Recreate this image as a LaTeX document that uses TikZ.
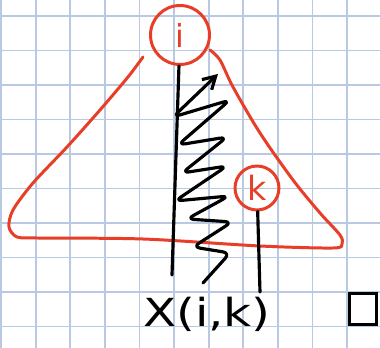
\documentclass[tikz,border=0pt]{standalone}
\usepackage{fontspec}
\setmainfont{DejaVu Sans}
\usetikzlibrary{arrows.meta}
\definecolor{inkred}{RGB}{232,62,40}
\definecolor{gridblue}{RGB}{186,201,226}
\begin{document}
\begin{tikzpicture}[x=0.02cm, y=-0.02cm,
    gridline/.style={gridblue, line width=1.1pt},
    redink/.style={inkred, line width=1.7pt, line cap=round, line join=round},
    blackink/.style={black, line width=1.8pt, line cap=round, line join=round},
    vertex/.style={circle, draw=inkred, line width=1.7pt, inner sep=0pt, text=inkred}]
    \useasboundingbox (0,0) rectangle (380,348);
    \fill[white] (0,0) rectangle (380,348);

    % Graph paper
    \foreach \gx in {1.1,35.7,...,382} {\draw[gridline] (\gx,0) -- (\gx,348);}
    \foreach \gy in {16,50.5,...,348} {\draw[gridline] (0,\gy) -- (380,\gy);}

    % Red triangle (open at the top left)
    \draw[redink] plot[smooth, tension=0.5] coordinates {(143,57) (128,77) (100,110) (67,147) (33,183)
        (13,210) (9,227) (17,237) (37,238) (143,239) (260,246) (333,248) (342,244) (340,235)
        (320,213) (293,180) (260,133) (233,87) (220,60) (210,50)};

    % Vertices
    \node[vertex, minimum size=1.18cm, font=\fontsize{18}{18}\selectfont] (i) at (180,35) {i};
    \node[vertex, minimum size=0.88cm, font=\fontsize{19}{19}\selectfont] (k) at (257,188) {k};

    % Lines down from i and k
    \coordinate (ibot) at (172,275);
    \coordinate (kbot) at (260,292);
    \draw[blackink] (i) -- (ibot);
    \draw[blackink] (k) -- (kbot);

    % Zigzag with arrow
    \coordinate (zstart) at (203,283);
    \coordinate (ztip) at (218,74);
    \draw[blackink, rounded corners=4pt, -{Straight Barb[length=7pt, width=8pt]}] (zstart) -- (230,253)
        -- (193,247) -- (232,222) -- (187,219) -- (229,196) -- (175,201) -- (227,166) -- (182,173)
        -- (227,137) -- (178,145) -- (230,100) -- (173,117) -- (ztip);

    % Labels
    \node[font=\fontsize{22}{22}\selectfont] (xik) at (207,314) {\scalebox{1.25}[1]{X(i,k)}};
    \node[draw, line width=1.8pt, minimum width=0.54cm, minimum height=0.62cm] (qed) at (363,309) {};
\end{tikzpicture}
\end{document}
